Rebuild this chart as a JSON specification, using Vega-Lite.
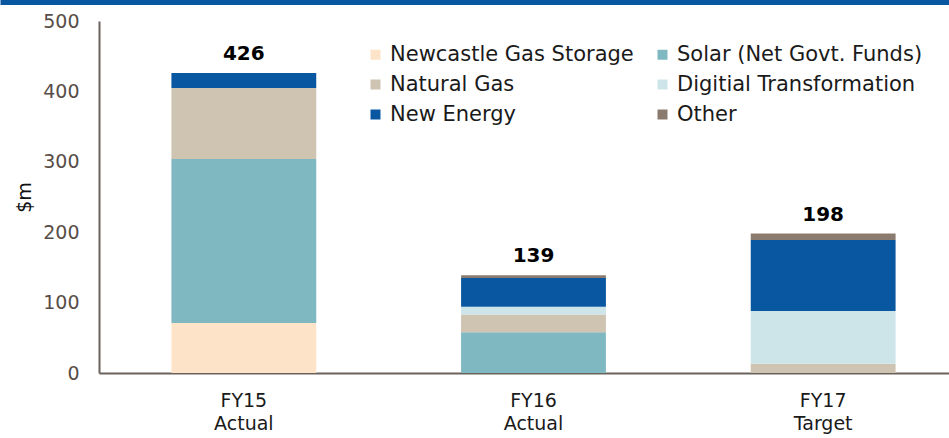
{
  "$schema": "https://vega.github.io/schema/vega-lite/v6.json",
  "width": 850,
  "height": 352,
  "autosize": "none",
  "padding": {"left": 99, "top": 21, "right": 0, "bottom": 65},
  "background": "white",
  "config": {"view": {"stroke": null}, "font": "DejaVu Sans"},
  "data": {
    "values": [
      {"period": "FY15\nActual", "category": "Newcastle Gas Storage", "value": 71},
      {"period": "FY15\nActual", "category": "Solar (Net Govt. Funds)", "value": 233},
      {"period": "FY15\nActual", "category": "Natural Gas", "value": 101},
      {"period": "FY15\nActual", "category": "New Energy", "value": 21},
      {"period": "FY16\nActual", "category": "Solar (Net Govt. Funds)", "value": 58},
      {"period": "FY16\nActual", "category": "Natural Gas", "value": 25},
      {"period": "FY16\nActual", "category": "Digitial Transformation", "value": 11},
      {"period": "FY16\nActual", "category": "New Energy", "value": 41},
      {"period": "FY16\nActual", "category": "Other", "value": 4},
      {"period": "FY17\nTarget", "category": "Natural Gas", "value": 13},
      {"period": "FY17\nTarget", "category": "Digitial Transformation", "value": 75},
      {"period": "FY17\nTarget", "category": "New Energy", "value": 101},
      {"period": "FY17\nTarget", "category": "Other", "value": 9}
    ]
  },
  "layer": [
    {
      "transform": [{"calculate": "indexof(['Newcastle Gas Storage', 'Solar (Net Govt. Funds)', 'Natural Gas', 'Digitial Transformation', 'New Energy', 'Other'], datum.category)", "as": "stackOrder"}],
      "mark": {"type": "bar"},
      "encoding": {
        "x": {
          "field": "period",
          "type": "nominal",
          "sort": ["FY15\nActual", "FY16\nActual", "FY17\nTarget"],
          "scale": {"range": [0, 869], "paddingInner": 0.5, "paddingOuter": 0.25},
          "axis": {
            "title": null,
            "labelAngle": 0,
            "labelExpr": "split(datum.label, '\\n')",
            "labelFontSize": 19,
            "labelColor": "#1a1a1a",
            "labelLineHeight": 23,
            "labelPadding": 18,
            "ticks": false,
            "domainColor": "#6b625c",
            "domainWidth": 2
          }
        },
        "y": {
          "field": "value",
          "type": "quantitative",
          "stack": "zero",
          "scale": {"domain": [0, 500], "nice": false},
          "axis": {
            "title": "$m",
            "titleFontSize": 19,
            "titleFontWeight": "normal",
            "titleColor": "#111111",
            "titlePadding": 8,
            "values": [0, 100, 200, 300, 400, 500],
            "grid": false,
            "ticks": false,
            "labelFontSize": 19,
            "labelColor": "#574d47",
            "labelPadding": 20,
            "domainColor": "#6b625c",
            "domainWidth": 2
          }
        },
        "order": {"field": "stackOrder", "type": "quantitative", "sort": "ascending"},
        "color": {
          "field": "category",
          "type": "nominal",
          "scale": {
            "domain": ["Newcastle Gas Storage", "Natural Gas", "New Energy", "Solar (Net Govt. Funds)", "Digitial Transformation", "Other"],
            "range": ["#FDE3C8", "#CFC3B1", "#0A57A1", "#7FB8C1", "#CDE4E9", "#8B7B6E"]
          },
          "legend": {
            "title": null,
            "orient": "none",
            "legendX": 266,
            "legendY": 23,
            "columns": 2,
            "columnPadding": 18,
            "rowPadding": 8,
            "symbolType": "square",
            "symbolSize": 100,
            "symbolStrokeWidth": 0,
            "labelFontSize": 21,
            "labelColor": "#1a1a1a",
            "labelOffset": 4,
            "labelLimit": 400
          }
        }
      }
    },
    {
      "transform": [{"aggregate": [{"op": "sum", "field": "value", "as": "total"}], "groupby": ["period"]}],
      "mark": {"type": "text", "fontWeight": "bold", "fontSize": 20, "baseline": "alphabetic", "dy": -13, "color": "#000000"},
      "encoding": {
        "x": {
          "field": "period",
          "type": "nominal",
          "sort": ["FY15\nActual", "FY16\nActual", "FY17\nTarget"],
          "scale": {"range": [0, 869], "paddingInner": 0.5, "paddingOuter": 0.25},
          "axis": null
        },
        "y": {"field": "total", "type": "quantitative"},
        "text": {"field": "total", "type": "quantitative"}
      }
    },
    {
      "mark": {"type": "text", "opacity": 0},
      "encoding": {
        "x": {
          "field": "period",
          "type": "nominal",
          "scale": {"range": [-99, 850]},
          "axis": {"orient": "top", "title": null, "labels": false, "ticks": false, "domainColor": "#0A57A1", "domainWidth": 5, "offset": 19}
        },
        "y": {"datum": 0, "type": "quantitative"},
        "text": {"value": ""}
      }
    }
  ],
  "resolve": {"scale": {"x": "independent"}, "axis": {"x": "independent"}}
}
